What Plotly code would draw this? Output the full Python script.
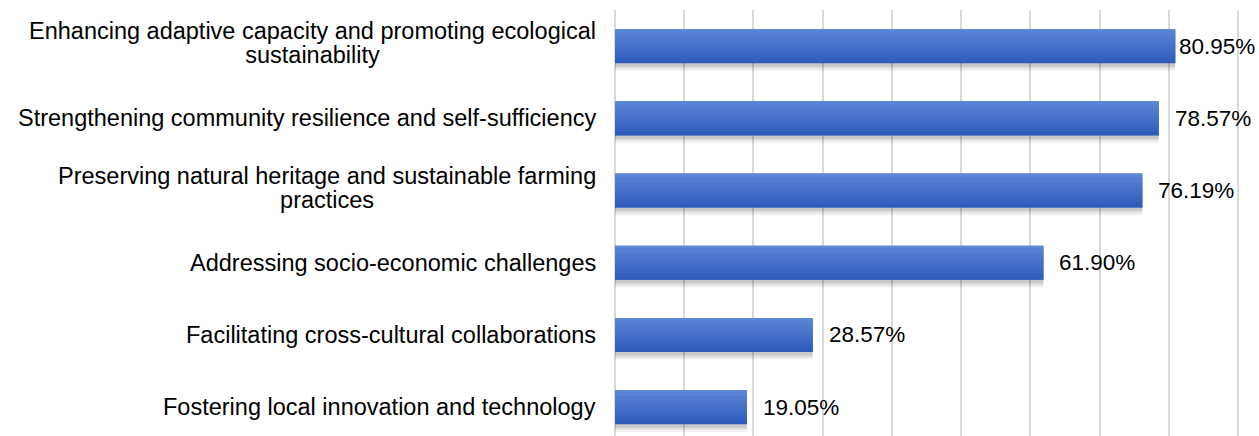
import plotly.graph_objects as go

categories = [
    "Enhancing adaptive capacity and promoting ecological<br>sustainability",
    "Strengthening community resilience and self-sufficiency",
    "Preserving natural heritage and sustainable farming<br>practices",
    "Addressing socio-economic challenges",
    "Facilitating cross-cultural collaborations",
    "Fostering local innovation and technology",
]
values = [80.95, 78.57, 76.19, 61.90, 28.57, 19.05]
value_labels = [f"{v:.2f}%" for v in values]

FONT = "Liberation Sans, Arial, Helvetica, sans-serif"
FS_CAT = 23.5
FS_VAL = 22.5
LINE_H = 24
BAR_W = 0.47
top_rgb = (0x5D, 0x86, 0xD5)
bot_rgb = (0x2C, 0x5B, 0xBA)

fig = go.Figure()

# soft shadow
for dy, op in [(0.11, 0.05), (0.08, 0.07), (0.05, 0.10)]:
    fig.add_trace(go.Bar(
        x=values, y=categories, orientation="h",
        width=BAR_W, offset=-BAR_W / 2 + dy,
        marker=dict(color=f"rgba(0,0,0,{op})", line=dict(width=0)),
        hoverinfo="skip", showlegend=False,
    ))

# base bar
fig.add_trace(go.Bar(
    x=values, y=categories, orientation="h",
    width=BAR_W, offset=-BAR_W / 2,
    marker=dict(color="#4470C8", line=dict(width=0)),
    hoverinfo="skip", showlegend=False,
))

# gradient strips
N = 14
sw = BAR_W / N
for k in range(N):
    t = k / (N - 1)
    c = tuple(round(a + (b - a) * t) for a, b in zip(top_rgb, bot_rgb))
    fig.add_trace(go.Bar(
        x=values, y=categories, orientation="h",
        width=sw * 1.05, offset=-BAR_W / 2 + k * sw,
        marker=dict(color=f"rgb{c}", line=dict(width=0)),
        hoverinfo="skip", showlegend=False,
    ))

annotations = []
for i, (cat, v, lab) in enumerate(zip(categories, values, value_labels)):
    annotations.append(dict(
        x=v, y=cat, xref="x", yref="y", text=lab, showarrow=False,
        xanchor="left", yanchor="middle", xshift=2 if i == 0 else 14,
        font=dict(family=FONT, size=FS_VAL, color="#000000"),
    ))
    lines = cat.split("<br>")
    n = len(lines)
    txt = "<br>".join(f"<span style='font-size:{FS_CAT}px'>{ln}</span>" for ln in lines)
    annotations.append(dict(
        x=0, y=cat, xref="paper", yref="y", text=txt, showarrow=False,
        xanchor="right", yanchor="middle", align="center",
        xshift=-17, yshift=(3 if n > 1 else 0),
        font=dict(family=FONT, size=LINE_H / 1.3 if n > 1 else FS_CAT, color="#000000"),
    ))

fig.update_layout(
    width=1259, height=436,
    margin=dict(l=615, r=19, t=10, b=0),
    barmode="overlay",
    plot_bgcolor="white", paper_bgcolor="white",
    annotations=annotations,
    xaxis=dict(
        range=[0, 90.3], dtick=10, showticklabels=False,
        showgrid=True, gridcolor="#D9D9D9", gridwidth=1.5,
        zeroline=True, zerolinecolor="#D9D9D9", zerolinewidth=1.5,
        showline=False, fixedrange=True,
    ),
    yaxis=dict(
        categoryorder="array", categoryarray=categories,
        range=[5.40, -0.5], showticklabels=False, showgrid=False,
        zeroline=False, showline=False, fixedrange=True,
    ),
)

fig.write_html("out.html")
